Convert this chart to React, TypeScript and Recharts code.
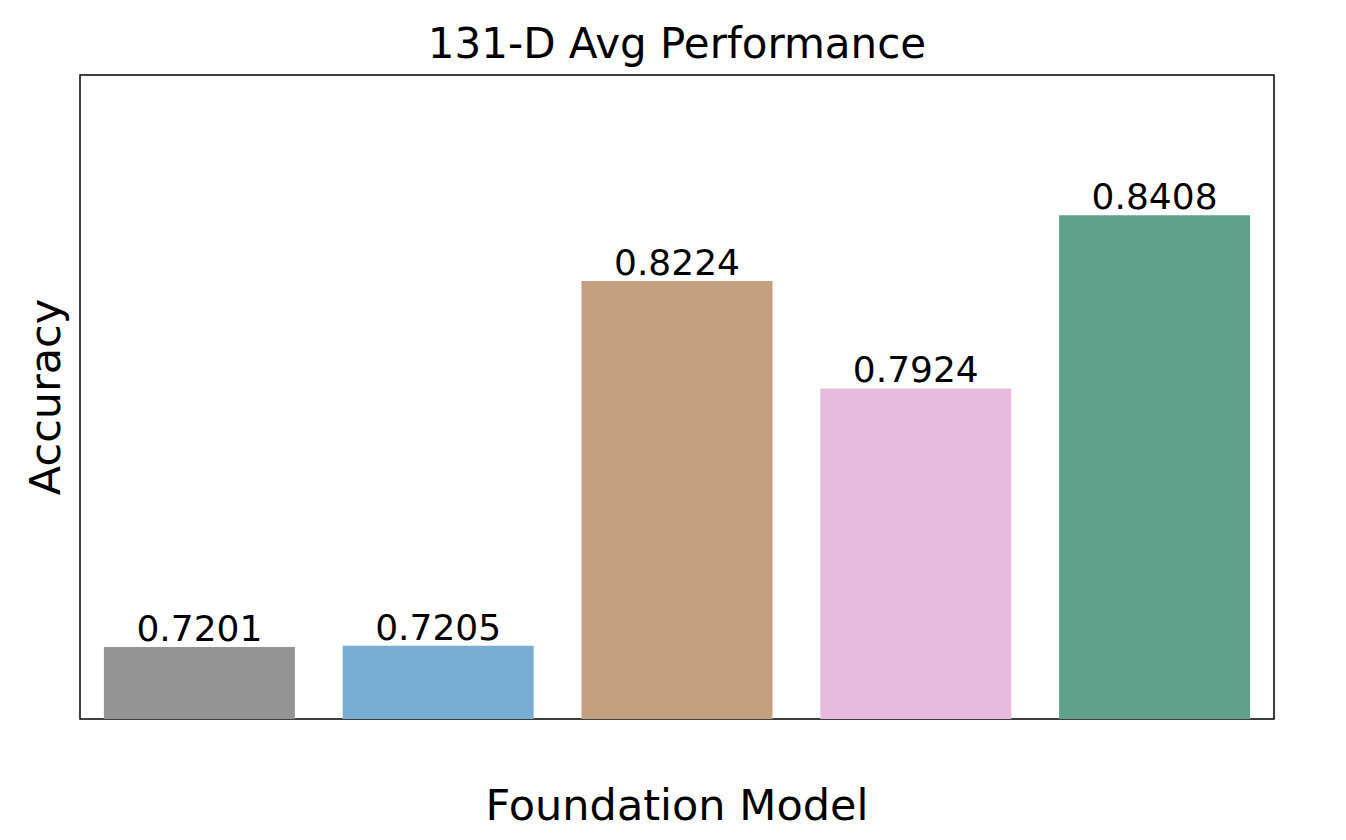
import React from 'react';
import { BarChart, Bar, XAxis, YAxis, Cell, LabelList } from 'recharts';

const categories = ['UniTS', 'GPT4TS', 'NuTime', 'MOMENT', 'Mantis'];
const accuracy = [0.7201, 0.7205, 0.8224, 0.7924, 0.8408];
const colors = ['#949494', '#7aadd4', '#c4a07f', '#e8bade', '#5fa18a'];

const data = categories.map((name, i) => ({ name, value: accuracy[i] }));
const font = 'DejaVu Sans, sans-serif';

export default function App() {
  return (
    <div style={{ position: 'absolute', left: 0, top: 0, width: 1346, height: 840, background: '#fff', fontFamily: font }}>
      <BarChart width={1346} height={840} data={data} margin={{ top: 75, left: 80, right: 72, bottom: 121 }} barCategoryGap="10%">
        <XAxis dataKey="name" height={0} tickSize={7} tick={{ fill: '#000', fontSize: 36, fontFamily: font, dy: 4 }} axisLine={false} tickLine={{ stroke: '#000', strokeWidth: 1.5 }} />
        <YAxis domain={[0.7, 0.88]} hide allowDataOverflow />
        <Bar dataKey="value" isAnimationActive={false}>
          {data.map((d, i) => <Cell key={d.name} fill={colors[i]} />)}
          <LabelList dataKey="value" position="top" offset={6} formatter={(v: number) => v.toFixed(4)} style={{ fill: '#000', fontSize: 36, fontFamily: font }} />
        </Bar>
        <rect x={80} y={75} width={1194} height={644} fill="none" stroke="#000" strokeWidth={1.5} />
        <text x={677} y={58} textAnchor="middle" fontSize={42} fontFamily={font} fill="#000">131-D Avg Performance</text>
        <text x={677} y={820} textAnchor="middle" fontSize={43} fontFamily={font} fill="#000">Foundation Model</text>
        <text x={60} y={397} textAnchor="middle" fontSize={43} fontFamily={font} fill="#000" transform="rotate(-90 60 397)">Accuracy</text>
      </BarChart>
    </div>
  );
}
